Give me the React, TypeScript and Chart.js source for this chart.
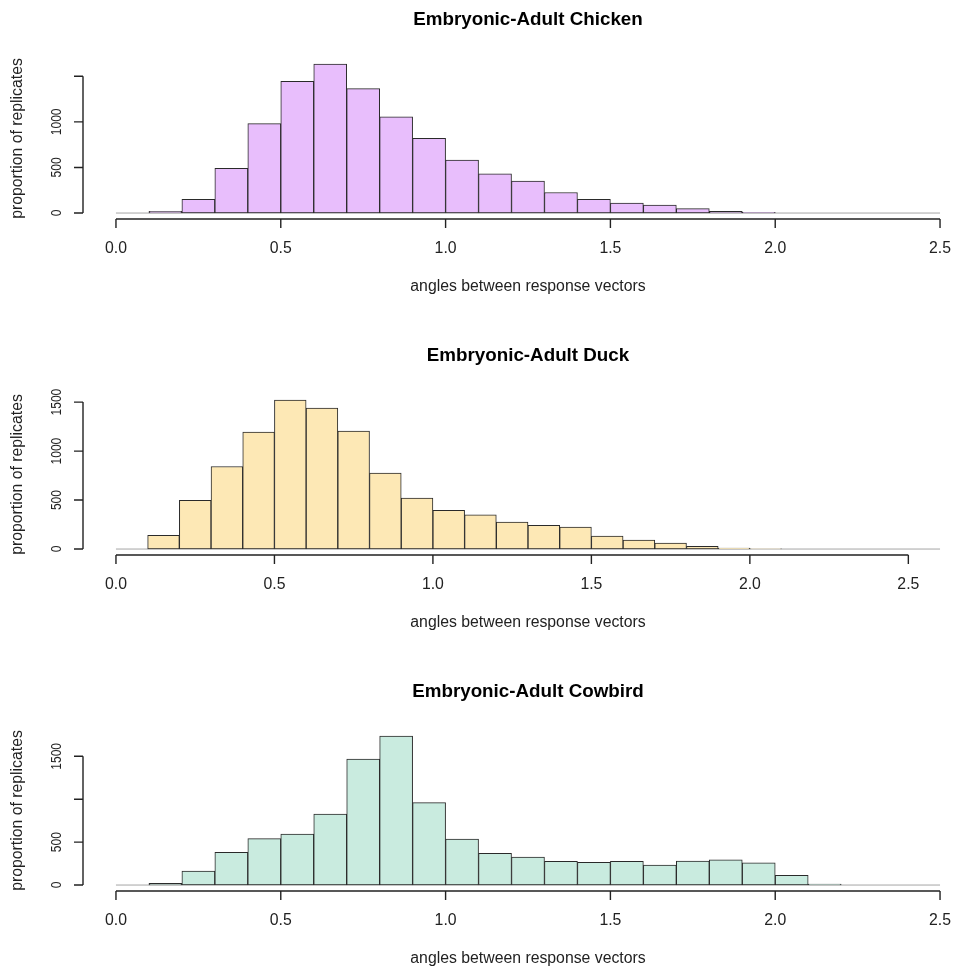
import React, { useEffect, useRef } from "react";
import { Chart, registerables } from "chart.js";

Chart.register(...registerables);

// ---- data (counts per 0.1-wide bin, starting at 0) ----
const BIN_WIDTH = 0.1;
const chickenCounts = [0, 20, 150, 490, 980, 1445, 1635, 1365, 1055, 820, 580, 430, 350, 225, 150, 110, 88, 48, 18, 7, 0, 0, 0, 0, 0];
const duckCounts = [0, 140, 498, 843, 1195, 1522, 1440, 1205, 775, 519, 396, 348, 276, 242, 225, 133, 92, 61, 27, 10, 3, 0, 0, 0, 0, 0];
const cowbirdCounts = [0, 19, 163, 381, 540, 594, 828, 1469, 1737, 960, 536, 369, 326, 276, 264, 276, 233, 280, 295, 260, 113, 12, 0, 0, 0];

const xTicks = [0, 0.5, 1, 1.5, 2, 2.5];
const xTickLabels = ["0.0", "0.5", "1.0", "1.5", "2.0", "2.5"];
const yTicks = [0, 500, 1000, 1500];
const chickenYLabels = ["0", "500", "1000", ""];
const duckYLabels = ["0", "500", "1000", "1500"];
const cowbirdYLabels = ["0", "500", "", "1500"];

const titles = ["Embryonic-Adult Chicken", "Embryonic-Adult Duck", "Embryonic-Adult Cowbird"];
const xTitle = "angles between response vectors";
const yTitle = "proportion of replicates";

const FONT = '"Liberation Sans", Arial, Helvetica, sans-serif';
const INK = "#222222";

function makeAxesPlugin(title: string, yLabels: string[]) {
  return {
    id: "rAxes",
    afterDraw(chart: any) {
      const { ctx, chartArea: a } = chart;
      const xs = chart.scales.x;
      const ys = chart.scales.y;
      ctx.save();
      ctx.strokeStyle = INK;
      ctx.fillStyle = INK;
      ctx.lineWidth = 1.4;

      // x axis
      const xb = a.bottom;
      ctx.beginPath();
      ctx.moveTo(xs.getPixelForValue(xTicks[0]), xb);
      ctx.lineTo(xs.getPixelForValue(xTicks[xTicks.length - 1]), xb);
      xTicks.forEach((v) => {
        const px = xs.getPixelForValue(v);
        ctx.moveTo(px, xb);
        ctx.lineTo(px, xb + 9);
      });
      ctx.stroke();

      // y axis
      const yl = a.left;
      ctx.beginPath();
      ctx.moveTo(yl, ys.getPixelForValue(yTicks[0]));
      ctx.lineTo(yl, ys.getPixelForValue(yTicks[yTicks.length - 1]));
      yTicks.forEach((v) => {
        const py = ys.getPixelForValue(v);
        ctx.moveTo(yl, py);
        ctx.lineTo(yl - 9, py);
      });
      ctx.stroke();

      // x tick labels
      ctx.font = `15.8px ${FONT}`;
      ctx.textAlign = "center";
      ctx.textBaseline = "middle";
      xTicks.forEach((v, i) => {
        ctx.fillText(xTickLabels[i], xs.getPixelForValue(v), xb + 30);
      });

      // y tick labels (rotated)
      ctx.font = `15px ${FONT}`;
      yTicks.forEach((v, i) => {
        const lab = yLabels[i];
        if (!lab) return;
        ctx.save();
        ctx.translate(yl - 26, ys.getPixelForValue(v));
        ctx.rotate(-Math.PI / 2);
        ctx.scale(0.8, 1);
        ctx.fillText(lab, 0, 0);
        ctx.restore();
      });

      // axis titles
      ctx.font = `15.8px ${FONT}`;
      ctx.fillText(xTitle, (a.left + a.right) / 2, xb + 68);
      ctx.save();
      ctx.translate(18, (a.top + a.bottom) / 2);
      ctx.rotate(-Math.PI / 2);
      ctx.fillText(yTitle, 0, 0);
      ctx.restore();

      // main title
      ctx.fillStyle = "#000";
      ctx.font = `bold 18.8px ${FONT}`;
      ctx.fillText(title, (a.left + a.right) / 2, a.top - 38);
      ctx.restore();
    },
  };
}

type PanelProps = {
  title: string;
  counts: number[];
  color: string;
  yLabels: string[];
  top: number;
};

function Panel({ title, counts, color, yLabels, top }: PanelProps) {
  const ref = useRef<HTMLCanvasElement>(null);
  useEffect(() => {
    const span = counts.length * BIN_WIDTH;
    const maxC = Math.max(...counts);
    const bars = counts.map((c, i) => ({ x: (i + 0.5) * BIN_WIDTH, y: c }));
    const chart = new Chart(ref.current as HTMLCanvasElement, {
      type: "bar",
      data: {
        datasets: [
          {
            type: "line",
            data: [
              { x: 0, y: 0 },
              { x: span, y: 0 },
            ],
            borderColor: "#a6a6a6",
            borderWidth: 1,
            pointRadius: 0,
            order: 2,
          } as any,
          {
            type: "bar",
            data: bars,
            backgroundColor: color,
            borderColor: "#2a2a2a",
            borderWidth: 1,
            borderSkipped: false,
            barPercentage: 1,
            categoryPercentage: 1,
            order: 1,
          } as any,
        ],
      },
      options: {
        animation: false,
        responsive: false,
        maintainAspectRatio: false,
        layout: { padding: { left: 83, right: 0, top: 58, bottom: 117 } },
        plugins: { legend: { display: false }, tooltip: { enabled: false }, title: { display: false } },
        scales: {
          x: { type: "linear", display: false, offset: false, min: -0.04 * span, max: 1.04 * span },
          y: { type: "linear", display: false, min: -0.04 * maxC, max: 1.04 * maxC },
        },
      } as any,
      plugins: [makeAxesPlugin(title, yLabels)],
    });
    return () => chart.destroy();
  }, []);
  return (
    <canvas
      ref={ref}
      width={973}
      height={336}
      style={{ position: "absolute", left: 0, top, width: 973, height: 336 }}
    />
  );
}

export default function App() {
  return (
    <div
      style={{
        position: "absolute",
        left: 0,
        top: 0,
        width: 955,
        height: 969,
        overflow: "hidden",
        background: "#fff",
      }}
    >
      <Panel title={titles[0]} counts={chickenCounts} color="#E8BEFC" yLabels={chickenYLabels} top={0} />
      <Panel title={titles[1]} counts={duckCounts} color="#FDE8B5" yLabels={duckYLabels} top={336} />
      <Panel title={titles[2]} counts={cowbirdCounts} color="#C9EBDF" yLabels={cowbirdYLabels} top={672} />
    </div>
  );
}
